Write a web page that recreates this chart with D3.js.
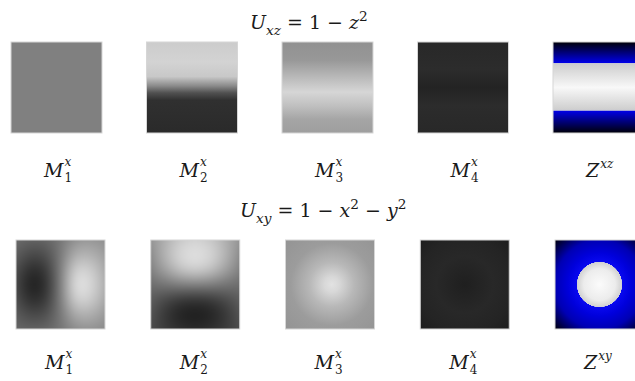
<!DOCTYPE html>
<html>
<head>
<meta charset="utf-8">
<script src="https://cdn.jsdelivr.net/npm/d3@7"></script>
<style>
  body { margin: 0; background: #fff; }
  text { font-family: "DejaVu Serif", serif; fill: #1a1a1a; }
</style>
</head>
<body>
<svg id="chart" width="635" height="381"></svg>
<script>
// titles, as math pieces: [text, italic?, shift]
const titleTop = [["U", 1], ["xz", 1, "sub"], [" = 1 − ", 0], ["z", 1], ["2", 0, "sup"]];
const titleBottom = [["U", 1], ["xy", 1, "sub"], [" = 1 − ", 0], ["x", 1], ["2", 0, "sup"], [" − ", 0], ["y", 1], ["2", 0, "sup"]];

const names = ["M", "M", "M", "M", "Z"];
const subs = ["1", "2", "3", "4", ""];
const supsTop = ["x", "x", "x", "x", "xz"];
const supsBottom = ["x", "x", "x", "x", "xy"];

// top row: vertical profiles (offset top->bottom, gray 0-255)
const topM1 = [[0, 128], [1, 128]];
const topM2 = [[0, 204], [0.22, 211], [0.38, 200], [0.48, 140], [0.56, 80], [0.64, 48], [1, 42]];
const topM3 = [[0, 145], [0.2, 152], [0.38, 184], [0.55, 214], [0.7, 192], [0.85, 165], [1, 158]];
const topM4 = [[0, 40], [0.3, 44], [0.5, 35], [0.7, 44], [1, 40]];
// Z^xz colours
const topZ = [[0, "#000008"], [0.228, "#0000e6"], [0.232, "#c4c4d8"], [0.25, "#cfcfcf"], [0.5, "#f8f8f8"], [0.74, "#cfcfcf"], [0.752, "#c4c4d8"], [0.756, "#0000e6"], [1, "#000008"]];

// bottom row M1, M2: coarse gray grids (rows top->bottom)
const botM1 = [
  [105, 95, 98, 118, 150, 155, 145],
  [92, 70, 76, 120, 178, 180, 160],
  [75, 40, 52, 124, 215, 210, 172],
  [68, 26, 42, 124, 232, 222, 178],
  [75, 40, 52, 124, 215, 210, 172],
  [90, 70, 76, 118, 175, 178, 155],
  [100, 95, 98, 116, 145, 150, 140]
];
const botM2 = [
  [150, 178, 205, 212, 205, 178, 150],
  [142, 185, 220, 228, 220, 185, 142],
  [132, 165, 200, 212, 200, 165, 132],
  [110, 118, 128, 130, 128, 118, 110],
  [92, 72, 55, 50, 55, 72, 92],
  [82, 52, 32, 26, 32, 52, 82],
  [76, 58, 46, 40, 46, 58, 76]
];
// bottom row M3, M4, Z: radial profiles (offset from centre)
const botM3 = [[0, 226], [0.12, 216], [0.35, 184], [0.65, 156], [1, 148]];
const botM4 = [[0, 31], [0.2, 35], [0.45, 40], [0.75, 36], [1, 29]];
const botZ = [[0, "#fbfbfb"], [0.25, "#ececec"], [0.35, "#d2d2d2"], [0.356, "#c8c8e8"], [0.36, "#0808f0"], [0.5, "#0000dc"], [0.7, "#0000b4"], [1, "#000008"]];

const svg = d3.select("#chart");
const defs = svg.append("defs");
const gray = d3.scaleLinear().domain([0, 255]).range(["#000", "#fff"]);

const xTop = d3.scaleLinear().domain([0, 4]).range([11, 553]);
const xBot = d3.scaleLinear().domain([0, 4]).range([16, 555]);

function mathText(x, y, parts, size) {
  const t = svg.append("text").attr("x", x).attr("y", y).style("font-size", size + "px");
  let shift = 0;
  parts.forEach(([s, it, pos]) => {
    const want = pos === "sub" ? size * 0.3 : pos === "sup" ? -size * 0.42 : 0;
    t.append("tspan")
      .attr("dy", want - shift)
      .style("font-style", it ? "italic" : "normal")
      .style("font-size", pos ? (size * 0.72) + "px" : null)
      .text(s);
    shift = want;
  });
  return t;
}

function linGrad(id, stops, isColor) {
  const g = defs.append("linearGradient").attr("id", id)
    .attr("x1", 0).attr("y1", 0).attr("x2", 0).attr("y2", 1);
  g.selectAll("stop").data(stops).join("stop")
    .attr("offset", d => d[0])
    .attr("stop-color", d => isColor ? d[1] : gray(d[1]));
}
function radGrad(id, stops, isColor, cx) {
  const g = defs.append("radialGradient").attr("id", id)
    .attr("cx", cx).attr("cy", 0.5).attr("r", 0.71);
  g.selectAll("stop").data(stops).join("stop")
    .attr("offset", d => d[0])
    .attr("stop-color", d => isColor ? d[1] : gray(d[1]));
}
// render a coarse grid smoothly (B-spline along rows, then columns)
function gridImage(grid, n) {
  const c = document.createElement("canvas");
  c.width = n; c.height = n;
  const ctx = c.getContext("2d");
  const img = ctx.createImageData(n, n);
  const rowF = grid.map(r => d3.interpolateBasis(r));
  for (let j = 0; j < n; j++) {
    const colF = d3.interpolateBasis(rowF.map(f => f(j / (n - 1))));
    for (let i = 0; i < n; i++) {
      const v = Math.round(colF(i / (n - 1)));
      const k = (i * n + j) * 4;
      img.data[k] = img.data[k + 1] = img.data[k + 2] = v;
      img.data[k + 3] = 255;
    }
  }
  ctx.putImageData(img, 0, 0);
  return c.toDataURL();
}

// titles
mathText(250, 29, titleTop, 19);
mathText(240, 217, titleBottom, 19);

// top row
[topM1, topM2, topM3, topM4, topZ].forEach((p, i) => linGrad("t" + i, p, i === 4));
svg.append("g").selectAll("rect").data(d3.range(5)).join("rect")
  .attr("x", d => xTop(d)).attr("y", 42)
  .attr("width", 91).attr("height", 91)
  .attr("fill", d => `url(#t${d})`)
  .attr("stroke", "#d6d6d6").attr("stroke-width", 1);

// bottom row
radGrad("b2", botM3, false, 0.52);
radGrad("b3", botM4, false, 0.5);
radGrad("b4", botZ, true, 0.5);
const gb = svg.append("g");
[botM1, botM2].forEach((grid, i) => {
  gb.append("image")
    .attr("href", gridImage(grid, 89))
    .attr("x", xBot(i)).attr("y", 240)
    .attr("width", 89).attr("height", 89)
    .attr("preserveAspectRatio", "none");
});
gb.selectAll("rect").data(d3.range(5)).join("rect")
  .attr("x", d => xBot(d)).attr("y", 240)
  .attr("width", 89).attr("height", 89)
  .attr("fill", d => d < 2 ? "none" : `url(#b${d})`)
  .attr("stroke", "#d6d6d6").attr("stroke-width", 1);

// labels: M with stacked sub/superscript in one text
function label(x, y, name, sub, sup) {
  const t = svg.append("text").attr("x", x).attr("y", y)
    .style("font-size", "19px");
  t.append("tspan").style("font-style", "italic").text(name);
  let back = 0;
  if (sub) {
    const s = t.append("tspan").attr("dx", 1).attr("dy", 5).style("font-size", "12px").text(sub);
    back = s.node().getComputedTextLength();
  }
  t.append("tspan").attr("dx", sub ? -back : 1).attr("dy", sub ? -16 : -9)
    .style("font-size", "12px").style("font-style", "italic").text(sup);
}
names.forEach((n, i) => label(xTop(i) + 33, 177, n, subs[i], supsTop[i]));
names.forEach((n, i) => label(xBot(i) + 29, 369, n, subs[i], supsBottom[i]));
</script>
</body>
</html>
